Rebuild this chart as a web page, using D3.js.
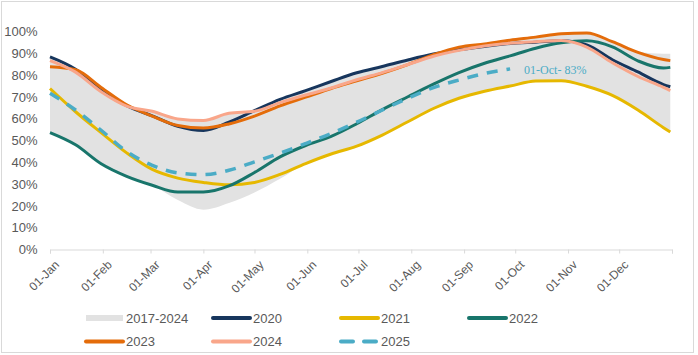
<!DOCTYPE html>
<html><head><meta charset="utf-8">
<script src="https://cdn.jsdelivr.net/npm/d3@7"></script>
<style>
html,body{margin:0;padding:0;background:#fff;}
svg{display:block;font-family:"Liberation Sans",Arial,sans-serif;}
</style></head><body>
<svg id="chart" width="698" height="355"></svg>
<script>
// ---- data (day of year, percent full) ----
const days = [0,15,30,45,60,75,90,105,120,135,150,165,180,195,210,225,240,255,270,285,300,315,330,345,360,364];
const monthTicks = [0,31,59,90,120,151,181,212,243,273,304,334,365];
const monthLabels = ["01-Jan","01-Feb","01-Mar","01-Apr","01-May","01-Jun","01-Jul","01-Aug","01-Sep","01-Oct","01-Nov","01-Dec",""];
const yTicks = [0,10,20,30,40,50,60,70,80,90,100];

const band2017_2024Low  = [53.7,48.1,39.4,33.6,29.5,22.7,18.3,21.4,26.2,32.5,39.5,43.9,47.5,52.6,58.7,64.8,69.5,72.7,75.1,77.4,77.6,75.0,70.8,64.1,56.0,54.0];
const band2017_2024High = [88.5,83.2,74.5,66.5,63.5,60.0,59.3,62.6,64.0,69.0,73.0,77.2,81.2,84.1,87.1,89.8,93.0,94.5,96.2,97.6,99.2,99.5,95.5,91.0,90.0,90.0];
const v2020 = [88.5,82.8,73.1,66.1,61.4,56.6,54.7,58.5,63.8,69.0,73.0,77.2,81.2,84.1,87.1,89.8,91.8,93.3,94.7,95.3,95.9,94.0,87.2,81.6,75.8,74.8];
const v2021 = [74.0,63.3,53.7,44.4,36.8,32.8,30.8,29.7,30.8,34.5,39.5,43.9,47.5,52.6,58.7,64.8,69.5,72.7,75.1,77.4,77.6,75.0,70.8,64.1,56.0,54.0];
const v2022 = [53.7,48.1,39.4,33.6,29.5,26.4,26.4,29.2,35.4,42.6,47.8,52.0,57.8,64.3,70.2,76.0,81.3,85.6,89.0,92.5,95.0,95.9,93.1,86.7,83.4,83.7];
const v2023 = [84.0,82.6,74.5,66.5,61.3,57.0,55.8,57.7,61.3,66.0,70.0,74.0,77.5,81.0,85.0,89.5,93.0,94.5,96.2,97.6,99.2,99.5,95.5,90.6,87.3,86.8];
const v2024 = [86.8,81.5,72.5,65.9,63.5,60.0,59.3,62.6,63.5,67.5,71.0,74.2,78.0,81.3,85.0,88.8,91.5,93.5,94.8,95.5,96.0,93.0,85.8,79.5,74.5,73.0];
const v2025 = [71.8,64.1,54.8,45.0,38.7,35.2,34.4,36.4,40.3,44.3,48.7,53.3,58.5,64.1,69.5,74.4,77.9,80.9,83.0,null,null,null,null,null,null,null];
const annotationText = "01-Oct- 83%";

const seriesNames  = ["2020","2021","2022","2023","2024","2025"];
const seriesValues = [v2020,v2021,v2022,v2023,v2024,v2025];
const seriesColors = ["#17365d","#e6b800","#18756b","#e46c0a","#f9a68a","#4bacc6"];

// ---- layout ----
const svg = d3.select("#chart");
const x = d3.scaleLinear().domain([0,365]).range([50,672]);
const y = d3.scaleLinear().domain([0,100]).range([249.5,31.9]);
const textColor = "#595959";

svg.append("rect").attr("x",1.5).attr("y",1.5).attr("width",692).attr("height",351)
  .attr("fill","#fff").attr("stroke","#d9d9d9");

// y labels
svg.append("g").selectAll("text").data(yTicks).join("text")
  .attr("x",37.5).attr("y",d=>y(d)).attr("dy","0.35em")
  .attr("text-anchor","end").attr("fill",textColor).attr("font-size","13px")
  .text(d=>d+"%");

// x axis
const xAxis = d3.axisBottom(x).tickValues(monthTicks).tickSize(4).tickFormat(()=>"");
const gx = svg.append("g").attr("transform",`translate(0,${y(0)})`).call(xAxis);
gx.select(".domain").attr("stroke","#d9d9d9");
gx.selectAll(".tick line").attr("stroke","#d9d9d9");
svg.append("g").selectAll("text").data(monthTicks.map((t,i)=>({t,l:monthLabels[i]})).filter(d=>d.l)).join("text")
  .attr("transform",d=>`translate(${x(d.t)+7},${y(0)+13}) rotate(-45)`)
  .attr("text-anchor","end").attr("dy","0.35em")
  .attr("fill",textColor).attr("font-size","12px").text(d=>d.l);

// band
const bandData = days.map((d,i)=>({d,lo:band2017_2024Low[i],hi:band2017_2024High[i]}));
svg.append("path").datum(bandData)
  .attr("fill","#e2e2e2")
  .attr("d",d3.area().x(p=>x(p.d)).y0(p=>y(p.lo)).y1(p=>y(p.hi)).curve(d3.curveMonotoneX));

// lines
const line = d3.line().defined(p=>p.v!=null).x(p=>x(p.d)).y(p=>y(p.v)).curve(d3.curveMonotoneX);
seriesValues.forEach((vals,i)=>{
  const pts = days.map((d,j)=>({d,v:vals[j]}));
  const path = svg.append("path").datum(pts).attr("fill","none")
    .attr("stroke",seriesColors[i]).attr("stroke-width",3).attr("stroke-linejoin","round")
    .attr("d",line);
  if (seriesNames[i]==="2025") path.attr("stroke-dasharray","11,9").attr("stroke-width",3.5);
});

// annotation at last 2025 point
const lastIdx = v2025.reduce((a,v,i)=>v!=null?i:a,0);
svg.append("text").attr("x",x(days[lastIdx])+14).attr("y",y(v2025[lastIdx])+1).attr("dy","0.35em")
  .attr("fill","#4bacc6").attr("font-size","12px").attr("font-family","'Liberation Serif',serif")
  .text(annotationText);

// legend
const legendItems = [
  {name:"2017-2024",color:"#e2e2e2",w:6,dash:null,x:86,y:318},
  {name:"2020",color:seriesColors[0],w:4,dash:null,x:213,y:318},
  {name:"2021",color:seriesColors[1],w:4,dash:null,x:341,y:318},
  {name:"2022",color:seriesColors[2],w:4,dash:null,x:469,y:318},
  {name:"2023",color:seriesColors[3],w:4,dash:null,x:86,y:341.5},
  {name:"2024",color:seriesColors[4],w:4,dash:null,x:213,y:341.5},
  {name:"2025",color:seriesColors[5],w:4,dash:"12,11",x:341,y:341.5}
];
const lg = svg.append("g").selectAll("g").data(legendItems).join("g")
  .attr("transform",d=>`translate(${d.x},${d.y})`);
lg.append("line").attr("x1",0).attr("x2",37).attr("y1",0).attr("y2",0)
  .attr("stroke",d=>d.color).attr("stroke-width",d=>d.w)
  .attr("stroke-dasharray",d=>d.dash).attr("stroke-linecap",d=>d.w===6?"butt":"round");
lg.append("text").attr("x",40).attr("y",0).attr("dy","0.35em")
  .attr("fill",textColor).attr("font-size","13px").text(d=>d.name);
</script>
</body></html>
